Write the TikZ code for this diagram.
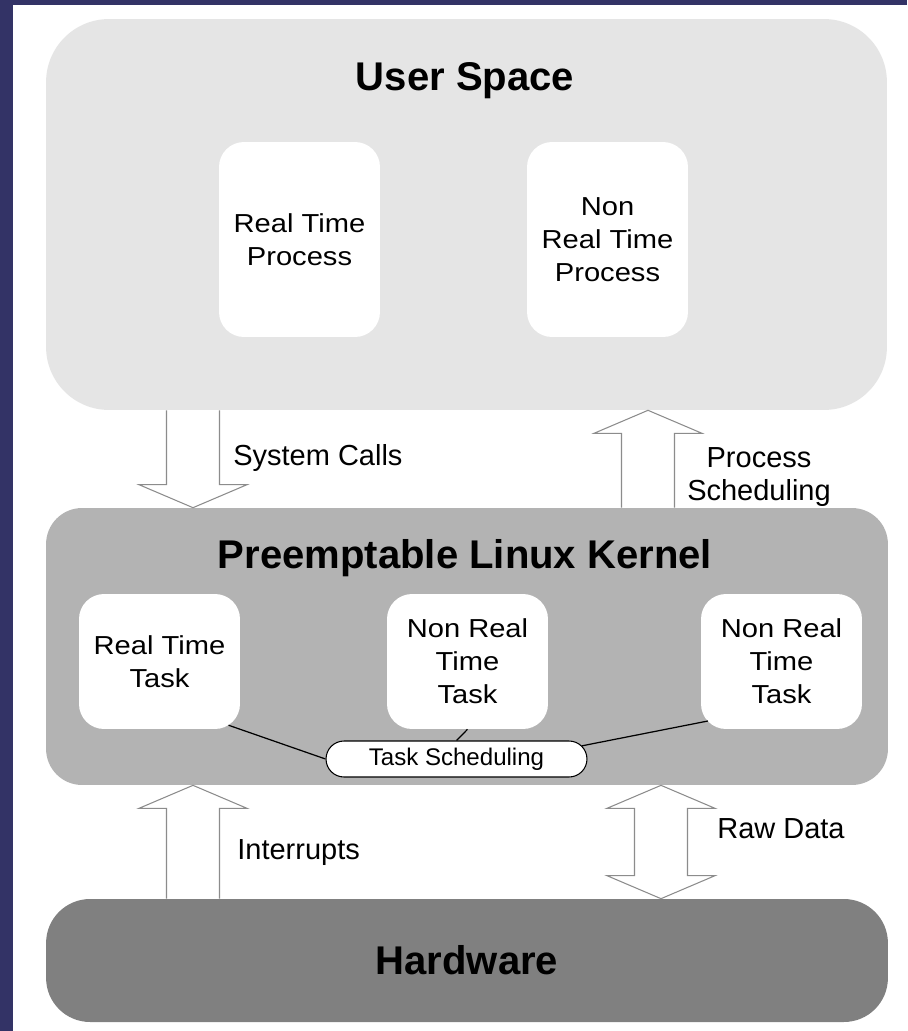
\documentclass[tikz,border=0pt]{standalone}
\usepackage{fontspec}
\setmainfont{Liberation Sans}
\newfontfamily\boxfont{Liberation Sans}[FakeStretch=1.12]
\usetikzlibrary{calc, positioning, shapes.misc}

% hollow block arrows between the layers (tail -> tip)
\newcommand{\layerarrow}[2]{%
  \filldraw[bigarrow] let \p1=(#1), \p2=(#2), \n1={sign(\y1-\y2)} in
    (\x1-0.53cm,\y1) -- (\x2-0.53cm,\y2+\n1*0.46cm) -- (\x2-1.08cm,\y2+\n1*0.46cm)
    -- (\p2) -- (\x2+1.08cm,\y2+\n1*0.46cm) -- (\x2+0.53cm,\y2+\n1*0.46cm)
    -- (\x1+0.53cm,\y1);}
\newcommand{\layerdblarrow}[2]{%
  \filldraw[bigarrow] let \p1=(#1), \p2=(#2), \n1={sign(\y1-\y2)} in
    (\p1) -- (\x1+1.08cm,\y1-\n1*0.46cm) -- (\x1+0.53cm,\y1-\n1*0.46cm)
    -- (\x2+0.53cm,\y2+\n1*0.46cm) -- (\x2+1.08cm,\y2+\n1*0.46cm) -- (\p2)
    -- (\x2-1.08cm,\y2+\n1*0.46cm) -- (\x2-0.53cm,\y2+\n1*0.46cm)
    -- (\x1-0.53cm,\y1-\n1*0.46cm) -- (\x1-1.08cm,\y1-\n1*0.46cm) -- cycle;}

\begin{document}
\begin{tikzpicture}[
    x=0.02cm, y=-0.02cm,
    layerbox/.style={rectangle, inner sep=0pt, minimum width=16.84cm},
    title/.style={font={\fontsize{22.8}{27}\selectfont\bfseries}},
    procbox/.style={rectangle, fill=white, rounded corners=0.5cm, minimum width=3.22cm, align=center, font={\boxfont\fontsize{14.8}{18.8}\selectfont}},
    taskbox/.style={procbox, minimum height=2.7cm},
    schedbox/.style={rounded rectangle, draw=black, line width=0.6pt, fill=white, minimum width=5.22cm, minimum height=0.72cm, inner sep=0pt, font={\fontsize{13.7}{16}\selectfont}},
    bigarrow/.style={draw=black!45, line width=0.6pt, fill=white, line join=miter},
    link/.style={draw=black, line width=0.7pt},
    lbl/.style={font={\fontsize{16.5}{19.3}\selectfont}, align=center, inner sep=0pt}
]

% Colours of the slide
\definecolor{framecolor}{RGB}{51, 51, 102}
\definecolor{usercolor}{RGB}{229, 229, 229}
\definecolor{kernelcolor}{RGB}{179, 179, 179}
\definecolor{hwcolor}{RGB}{128, 128, 128}

% Slide frame
\fill[framecolor] (0,0) rectangle (907,1031);
\fill[white] (13,5) rectangle (907,1031);

% User space
\node[layerbox, fill=usercolor, rounded corners=1.26cm, minimum width=16.82cm, minimum height=7.82cm] (user) at (466.5,214.5) {};
\node[title, anchor=base] (usertitle) at (465,90) {User Space};
\node[procbox, minimum height=3.9cm] (rtproc) at (299.5,239.5) {Real Time\\Process};
\node[procbox, minimum height=3.9cm] (nrtproc) at (607.5,239.5) {Non\\Real Time\\Process};

% Kernel
\node[layerbox, fill=kernelcolor, rounded corners=0.72cm, minimum height=5.54cm] (kernel) at (467,646.5) {};
\node[title, anchor=base] (kerneltitle) at (465,568) {Preemptable Linux Kernel};
\node[taskbox] (rttask) at (159.5,661.5) {Real Time\\Task};
\node[taskbox] (nrttask1) at (467.5,661.5) {Non Real\\Time\\Task};
\node[taskbox] (nrttask2) at (781.5,661.5) {Non Real\\Time\\Task};
\node[schedbox] (sched) at (456.5,759) {Task Scheduling};

\draw[link, shorten <=-0.25cm] (rttask.south east) -- (sched.west);
\draw[link] (nrttask1.south) -- (sched.north);
\draw[link, shorten <=-0.15cm] (nrttask2.-143) -- (sched.6);

% Hardware
\node[layerbox, fill=hwcolor, rounded corners=0.88cm, minimum height=2.46cm, title] (hw) at (467,960.5) {Hardware};

% Arrows between the layers
\coordinate (leftarr) at (193,0);
\coordinate (schedarr) at (648,0);
\coordinate (dataarr) at (661,0);

\layerarrow{user.south -| leftarr}{kernel.north -| leftarr}
\layerarrow{kernel.north -| schedarr}{user.south -| schedarr}
\layerarrow{hw.north -| leftarr}{kernel.south -| leftarr}
\layerdblarrow{kernel.south -| dataarr}{hw.north -| dataarr}

\node[lbl, anchor=base west] (syslbl) at (233,465) {System Calls};
\node[lbl] (pslbl) at (759,477) {Process\\Scheduling};
\node[lbl, anchor=base west] (irqlbl) at (237,859) {Interrupts};
\node[lbl, anchor=base west] (rawlbl) at (717,838) {Raw Data};

\end{tikzpicture}
\end{document}
